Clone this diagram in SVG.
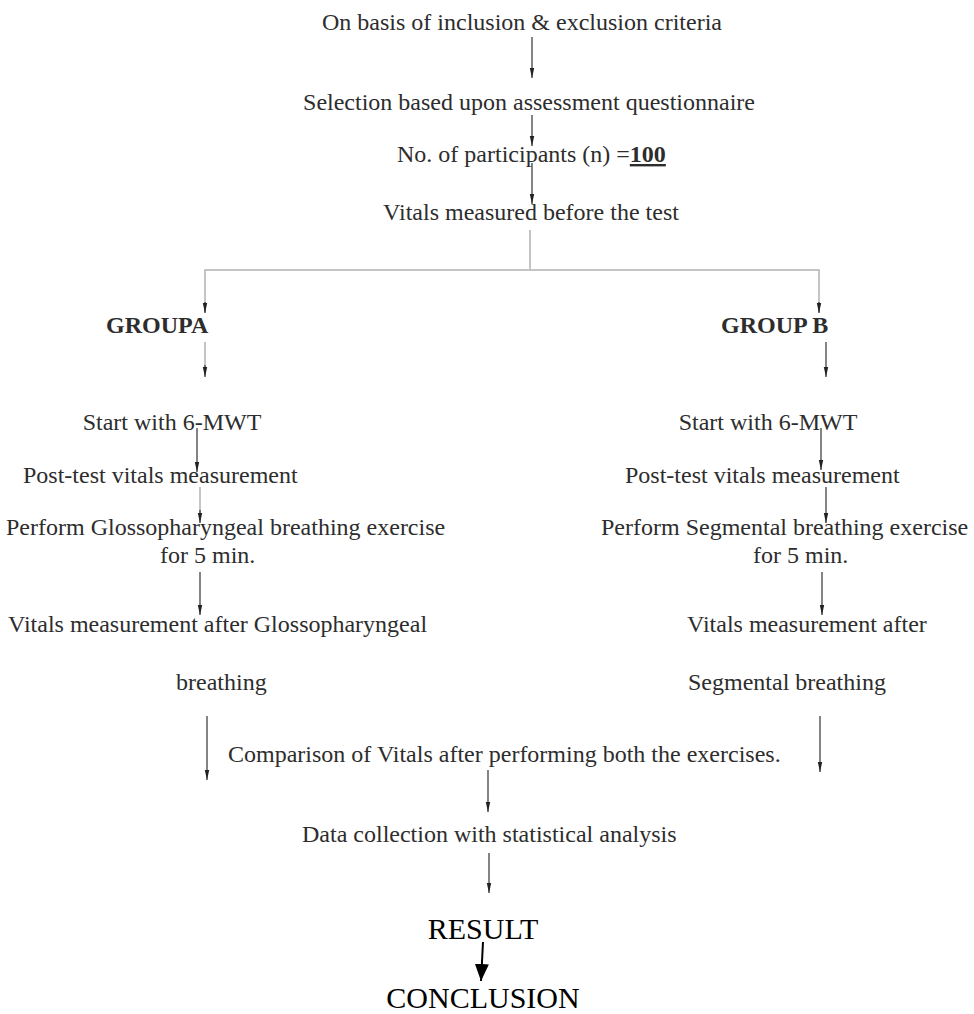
<svg xmlns="http://www.w3.org/2000/svg" width="974" height="1014" viewBox="0 0 974 1014">
<style>
text{font-family:'Liberation Serif','Times New Roman',serif;font-size:24px;fill:#2d2d2d}
.b{font-weight:bold}
.big{font-size:30px;fill:#000}
.c{text-anchor:middle}
.ln{stroke:#333;stroke-width:1.2;fill:none}
.gl{stroke:#c4c4c4;stroke-width:2;fill:none}
</style>
<defs>
<marker id="ah" viewBox="0 0 10 6" refX="10" refY="3" markerWidth="10" markerHeight="6" markerUnits="userSpaceOnUse" orient="auto"><path d="M0,0.8 L10,3 L0,5.2 z" fill="#222"/></marker>
<marker id="bh" viewBox="0 0 17 14" refX="17" refY="7" markerWidth="17" markerHeight="14" markerUnits="userSpaceOnUse" orient="auto"><path d="M0,0 L17,7 L0,14 z" fill="#000"/></marker>
</defs>
<g id="connectors">
<line class="ln" x1="532" y1="37" x2="532" y2="78" marker-end="url(#ah)"/>
<line class="ln" x1="532" y1="115" x2="532" y2="146" marker-end="url(#ah)"/>
<line class="ln" x1="532" y1="163" x2="532" y2="204" marker-end="url(#ah)"/>
<polyline class="gl" points="530,230 530,270"/>
<polyline class="gl" points="205,312 205,270 819,270 819,312"/>
<line class="ln" x1="205" y1="302" x2="205" y2="313" marker-end="url(#ah)"/>
<line class="ln" x1="819" y1="302" x2="819" y2="313" marker-end="url(#ah)"/>
<line class="gl" x1="205" y1="342" x2="205" y2="368"/>
<line class="ln" x1="205" y1="365" x2="205" y2="377" marker-end="url(#ah)"/>
<line class="ln" x1="826" y1="342" x2="826" y2="377" marker-end="url(#ah)"/>
<line class="ln" x1="197" y1="428" x2="197" y2="472" marker-end="url(#ah)"/>
<line class="ln" x1="821" y1="428" x2="821" y2="470" marker-end="url(#ah)"/>
<line class="gl" x1="200" y1="487" x2="200" y2="514"/>
<line class="ln" x1="200" y1="510" x2="200" y2="523" marker-end="url(#ah)"/>
<line class="ln" x1="826" y1="487" x2="826" y2="523" marker-end="url(#ah)"/>
<line class="ln" x1="200" y1="572" x2="200" y2="615" marker-end="url(#ah)"/>
<line class="ln" x1="822" y1="572" x2="822" y2="615" marker-end="url(#ah)"/>
<line class="ln" x1="207" y1="716" x2="207" y2="780" marker-end="url(#ah)"/>
<line class="ln" x1="820" y1="716" x2="820" y2="772" marker-end="url(#ah)"/>
<line class="ln" x1="488" y1="770" x2="488" y2="812" marker-end="url(#ah)"/>
<line class="ln" x1="489" y1="853" x2="489" y2="893" marker-end="url(#ah)"/>
<line x1="483" y1="942" x2="481" y2="981" stroke="#000" stroke-width="2" marker-end="url(#bh)"/>
</g>
<g id="n1"><text class="c" x="522" y="30">On basis of inclusion &amp; exclusion criteria</text></g>
<g id="n2"><text class="c" x="529" y="110">Selection based upon assessment questionnaire</text></g>
<g id="n3"><text x="397" y="162">No. of participants (n) =<tspan class="b" text-decoration="underline">100</tspan></text></g>
<g id="n4"><text class="c" x="531" y="220">Vitals measured before the test</text></g>
<g id="groupA"><text class="b" x="106" y="333">GROUPA</text></g>
<g id="groupB"><text class="b" x="721" y="333">GROUP B</text></g>
<g id="a1"><text class="c" x="172" y="430">Start with 6-MWT</text></g>
<g id="b1"><text class="c" x="768" y="430">Start with 6-MWT</text></g>
<g id="a2"><text x="23" y="483">Post-test vitals measurement</text></g>
<g id="b2"><text x="625" y="483">Post-test vitals measurement</text></g>
<g id="a3"><text x="6" y="535">Perform Glossopharyngeal breathing exercise</text><text x="160" y="563">for 5 min.</text></g>
<g id="b3"><text x="601" y="535">Perform Segmental breathing exercise</text><text x="753" y="563">for 5 min.</text></g>
<g id="a4"><text x="8" y="632">Vitals measurement after Glossopharyngeal</text><text x="176" y="690">breathing</text></g>
<g id="b4"><text x="687" y="632">Vitals measurement after</text><text x="688" y="690">Segmental breathing</text></g>
<g id="n5"><text x="228" y="762">Comparison of Vitals after performing both the exercises.</text></g>
<g id="n6"><text x="302" y="842">Data collection with statistical analysis</text></g>
<g id="n7"><text class="big c" x="483" y="939">RESULT</text></g>
<g id="n8"><text class="big c" x="483" y="1008">CONCLUSION</text></g>
</svg>
